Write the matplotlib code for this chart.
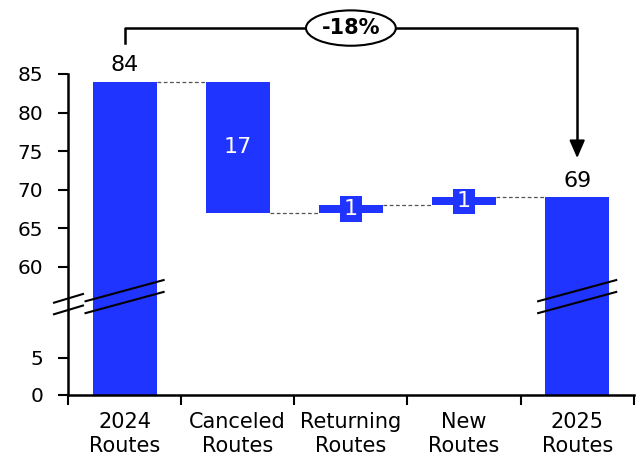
import numpy as np
import matplotlib
matplotlib.use("Agg")
import matplotlib.pyplot as plt
import matplotlib.transforms as mtransforms

# data
categories = ["2024\nRoutes", "Canceled\nRoutes", "Returning\nRoutes", "New\nRoutes", "2025\nRoutes"]
bottoms = [0, 67, 67, 68, 0]
tops = [84, 84, 68, 69, 69]
labels = ["84", "17", "1", "1", "69"]
yticks = [0, 5, 60, 65, 70, 75, 80, 85]
change_text = "-18%"

blue = "#2034FF"
plt.rcParams["font.family"] = "DejaVu Sans"


# broken axis: 0-5 then jump to 60-85
def fwd(v):
    v = np.asarray(v, dtype=float)
    return np.where(v < 5, v * 7.4,
                    np.where(v < 60, 37 + (v - 5) * 91 / 55, 128 + (v - 60) * 7.72))


def inv(p):
    p = np.asarray(p, dtype=float)
    return np.where(p < 37, p / 7.4,
                    np.where(p < 128, 5 + (p - 37) * 55 / 91, 60 + (p - 128) / 7.72))


fig = plt.figure(figsize=(6.4, 4.58), dpi=100)
ax = fig.add_axes([0.10625, 0.1376, 0.884, 0.7009])
ax.set_yscale("function", functions=(fwd, inv))

x = np.arange(len(categories))
w = 0.565
heights = [t - b for t, b in zip(tops, bottoms)]
ax.bar(x, heights, bottom=bottoms, width=w, color=blue, zorder=2)

ax.set_xlim(-0.5, len(categories) - 0.5)
ax.set_ylim(0, 85)
ax.set_yticks(yticks)
ax.set_yticklabels([str(t) for t in yticks])

# ticks at category boundaries, labels at centres
ax.set_xticks(np.arange(-0.5, len(categories)), minor=False)
ax.set_xticklabels([""] * (len(categories) + 1))
ax.set_xticks(x, minor=True)
ax.set_xticklabels(categories, minor=True, linespacing=1.25)
ax.tick_params(axis="x", which="minor", length=0, pad=12, labelsize=15)
ax.tick_params(axis="x", which="major", length=7, width=1.5)
ax.tick_params(axis="y", length=7, width=1.5, pad=11, labelsize=14.5)

for s in ["top", "right"]:
    ax.spines[s].set_visible(False)
for s in ["left", "bottom"]:
    ax.spines[s].set_linewidth(1.8)

# connectors
for i in range(len(categories) - 1):
    level = bottoms[i] if i == 1 else tops[i]
    ax.plot([x[i] + w / 2, x[i + 1] - w / 2], [level, level], ls=(0, (3, 2)),
            color="#555555", lw=0.9, zorder=1)

# value labels
for i, lab in enumerate(labels):
    mid = (tops[i] + bottoms[i]) / 2
    if i in (0, len(labels) - 1):
        ax.annotate(lab, (x[i], tops[i]), xytext=(0, 5), textcoords="offset points",
                    ha="center", va="bottom", fontsize=16)
    elif i == 1:
        ax.text(x[i], mid, lab, ha="center", va="center", color="white", fontsize=16)
    else:
        # small box behind the label so it shows on the thin bar
        ax.bar(x[i], 3.3, bottom=mid - 1.65, width=0.19, color=blue, zorder=3)
        ax.text(x[i], mid, lab, ha="center", va="center", color="white",
                fontsize=16, zorder=4)

# break marks
trans = mtransforms.blended_transform_factory(ax.transData, ax.transAxes)
for i in (0, len(categories) - 1):
    for dy in (0.0, -0.037):
        ax.plot([x[i] - 0.345, x[i] + 0.345], [0.292 + dy, 0.358 + dy], color="black",
                lw=1.5, transform=trans, clip_on=False, zorder=4)
for dy in (0.0, -0.036):
    ax.plot([-0.0247, 0.0265], [0.2875 + dy, 0.3146 + dy], color="black", lw=1.5,
            transform=ax.transAxes, clip_on=False, zorder=4)

# change bracket
y_top = 1.143
ax.plot([x[0], x[0], x[-1], x[-1]], [1.0975, y_top, y_top, 0.78], color="black", lw=1.8,
        transform=trans, clip_on=False)
ax.annotate("", xy=(x[-1], 0.738), xytext=(x[-1], 0.79), xycoords=trans, textcoords=trans,
            arrowprops=dict(arrowstyle="-|>,head_width=0.47,head_length=1.08", color="black",
                            lw=1.5, mutation_scale=10, shrinkA=0, shrinkB=0))
ax.text((x[0] + x[-1]) / 2, y_top, change_text, transform=trans, ha="center", va="center",
        fontsize=15, fontweight="bold",
        bbox=dict(boxstyle="ellipse,pad=0.12", fc="white", ec="black", lw=1.5))

fig.savefig("out.png", dpi=100)
